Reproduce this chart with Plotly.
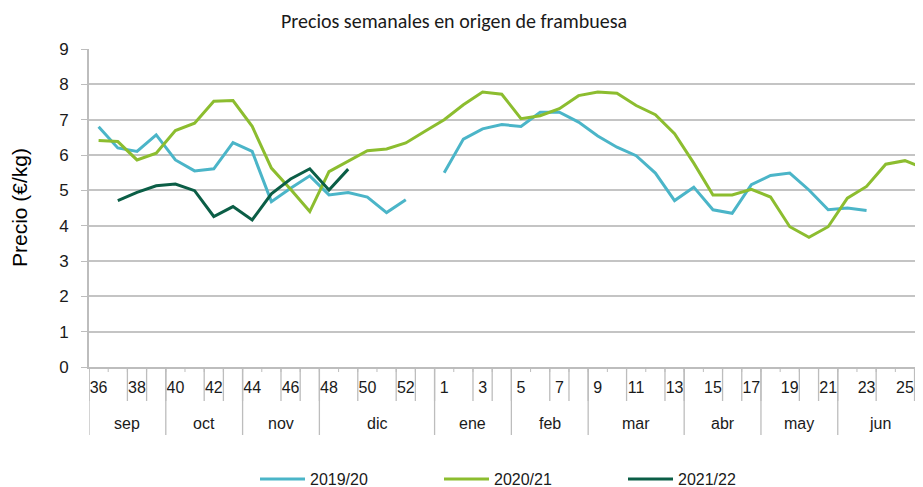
import plotly.graph_objects as go

weeks = ["36", "37", "38", "39", "40", "41", "42", "43", "44", "45", "46", "47",
         "48", "49", "50", "51", "52", "53",
         "1", "2", "3", "4", "5", "6", "7", "8", "9", "10", "11", "12", "13",
         "14", "15", "16", "17", "18", "19", "20", "21", "22", "23", "24", "25", "26"]
months = ["sep", "oct", "nov", "dic", "ene", "feb", "mar", "abr", "may", "jun"]
weeks_per_month = [4, 4, 4, 6, 4, 4, 5, 4, 4, 5]

s_2019_20 = [6.80, 6.20, 6.10, 6.57, 5.86, 5.55, 5.61, 6.35, 6.10, 4.68, 5.06, 5.41,
             4.87, 4.94, 4.81, 4.37, 4.73, None,
             5.50, 6.45, 6.74, 6.86, 6.81, 7.21, 7.21, 6.93, 6.54, 6.22, 5.98, 5.49, 4.71,
             5.09, 4.45, 4.35, 5.16, 5.42, 5.49, 5.01, 4.45, 4.50, 4.43, None, None, None]
s_2020_21 = [6.41, 6.38, 5.86, 6.05, 6.69, 6.90, 7.52, 7.54, 6.81, 5.63, 5.03, 4.40,
             5.53, 5.82, 6.12, 6.17, 6.34, 6.67,
             7.00, 7.42, 7.78, 7.72, 7.03, 7.11, 7.31, 7.68, 7.78, 7.75, 7.40, 7.14, 6.60,
             5.77, 4.87, 4.87, 5.03, 4.81, 3.97, 3.67, 3.97, 4.78, 5.11, 5.74, 5.84, 5.62]
s_2021_22 = [None, 4.71, 4.94, 5.13, 5.18, 4.99, 4.26, 4.54, 4.16, 4.90, 5.32, 5.61,
             5.01, 5.60] + [None] * 30

series_names = ["2019/20", "2020/21", "2021/22"]
series_colors = ["#4BB5C8", "#8CBD2F", "#0B5E46"]

FONT = "Liberation Sans, Arial, sans-serif"
GRID = "#C4C4C4"
AXIS = "#BDBDBD"
TXT = "#1a1a1a"

fig = go.Figure()
for name, vals, col in zip(series_names, [s_2019_20, s_2020_21, s_2021_22], series_colors):
    fig.add_trace(go.Scatter(x=weeks, y=vals, mode="lines", name=name,
                             line=dict(color=col, width=3), connectgaps=False))

# the page body has an 8px default margin, so the figure is 8px smaller than the window
W, H = 915, 479
x_max = 42.94
L, T, B = 81, 41, 120
plot_h = H - T - B
plot_w = W - L

shapes = []
n = len(weeks)
for i in range(n + 1):
    b = i - 0.5
    shapes.append(dict(type="line", xref="x", yref="paper", x0=b, x1=b, y0=0, y1=-5 / plot_h,
                       line=dict(color=AXIS, width=1)))
starts = []
s = 0
for cnt in weeks_per_month:
    starts.append(s)
    s += cnt
bounds = starts + [n]
label_lines = set()
for st, cnt in zip(starts, weeks_per_month):
    for k in range(0, cnt, 2):
        label_lines.add(st + k - 0.5)
    if cnt % 2 == 0:
        label_lines.add(st + cnt - 1.5)
for b in sorted(label_lines):
    shapes.append(dict(type="line", xref="x", yref="paper", x0=b, x1=b, y0=0, y1=-34 / plot_h,
                       line=dict(color=AXIS, width=1.3)))
for b in bounds:
    shapes.append(dict(type="line", xref="x", yref="paper", x0=b - 0.5, x1=b - 0.5, y0=0,
                       y1=-68 / plot_h, line=dict(color=AXIS, width=1.3)))

annotations = []
for m, st, cnt in zip(months, starts, weeks_per_month):
    a = st - 0.5
    e = min(st + cnt - 0.5, x_max)
    annotations.append(dict(x=(a + e) / 2, y=-56 / plot_h, xref="x", yref="paper",
                            text=m, showarrow=False, xanchor="center", yanchor="middle",
                            font=dict(family=FONT, size=16, color=TXT)))
annotations.append(dict(x=(11 - L) / plot_w, y=0.5, xref="paper", yref="paper",
                        text="Precio (€/kg)", textangle=-90, showarrow=False,
                        xanchor="center", yanchor="middle",
                        font=dict(family=FONT, size=21, color="#000000")))

fig.update_layout(
    width=W, height=H,
    margin=dict(l=L, r=0, t=T, b=B, autoexpand=False),
    paper_bgcolor="white", plot_bgcolor="white",
    title=dict(text="Precios semanales en origen de frambuesa", x=446 / W, xref="container",
               xanchor="center", y=1 - 13 / H, yref="container", yanchor="middle",
               font=dict(family="Carlito, Lato, Liberation Sans, sans-serif", size=20, color=TXT)),
    showlegend=True,
    legend=dict(orientation="h", x=247 / W, xref="container", xanchor="left",
                y=1 - 471 / H, yref="container", yanchor="middle",
                entrywidth=124, entrywidthmode="pixels",
                font=dict(family=FONT, size=16, color=TXT), itemwidth=45),
    shapes=shapes,
    annotations=annotations,
)
fig.update_xaxes(type="category", categoryorder="array", categoryarray=weeks,
                 range=[-0.5, x_max], tickmode="array", tickvals=weeks[::2],
                 ticktext=weeks[::2], ticks="", showgrid=False, showline=True,
                 linecolor=AXIS, linewidth=2, tickfont=dict(family=FONT, size=16, color=TXT),
                 ticklabelstandoff=5, automargin=False,
                 zeroline=False, fixedrange=True)
fig.update_yaxes(range=[0, 9], dtick=1, showgrid=True, gridcolor=GRID, gridwidth=1.5,
                 showline=True, linecolor=AXIS, linewidth=2, ticks="outside", ticklen=6,
                 tickcolor=AXIS, zeroline=False, automargin=False, ticklabelstandoff=9,
                 tickfont=dict(family=FONT, size=17, color=TXT))

fig.write_html("out.html")
